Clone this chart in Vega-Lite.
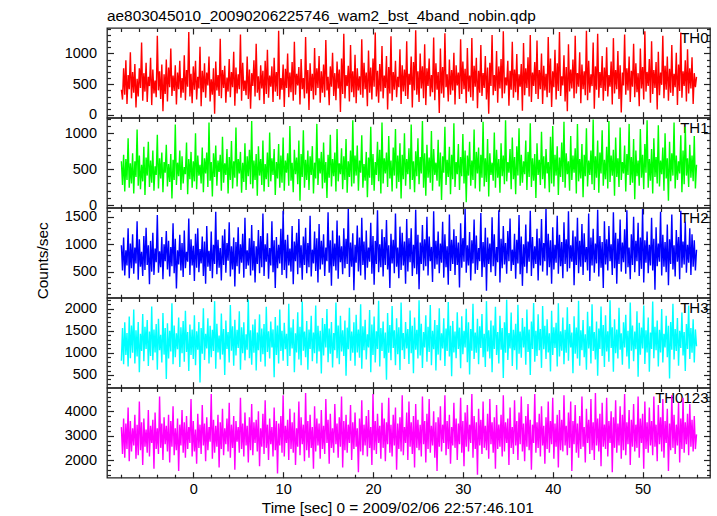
{
"$schema":"https://vega.github.io/schema/vega-lite/v6.json",
"background":"white",
"padding":{"left":34,"top":7,"right":5,"bottom":5},
"bounds":"flush",
"spacing":0,
"config":{
 "font":"Liberation Sans",
 "view":{"stroke":"#222","strokeWidth":1.3},
 "axis":{"domain":false,"grid":false,"tickColor":"#222","tickWidth":1.2,"labelFont":"Liberation Sans","labelFontSize":14.5,"labelColor":"#000","titleFont":"Liberation Sans","titleFontSize":15.4,"titleFontWeight":"normal","titleColor":"#000","labelOverlap":false,"labelFlush":false},
 "title":{"font":"Liberation Sans","fontSize":15.4,"fontWeight":"normal","color":"#000"}
},
"data":{"values":[
{"t":-8,"TH0":410,"TH1":610,"TH2":980,"TH3":820,"TH0123":3350},
{"t":-7.875,"TH0":250,"TH1":280,"TH2":520,"TH3":1560,"TH0123":2250},
{"t":-7.75,"TH0":760,"TH1":700,"TH2":1120,"TH3":740,"TH0123":3700},
{"t":-7.625,"TH0":330,"TH1":190,"TH2":430,"TH3":1690,"TH0123":2100},
{"t":-7.5,"TH0":890,"TH1":640,"TH2":890,"TH3":950,"TH0123":3500},
{"t":-7.375,"TH0":180,"TH1":350,"TH2":610,"TH3":1450,"TH0123":2450},
{"t":-7.25,"TH0":650,"TH1":930,"TH2":1290,"TH3":690,"TH0123":4150},
{"t":-7.125,"TH0":420,"TH1":240,"TH2":380,"TH3":1820,"TH0123":1950},
{"t":-7,"TH0":1020,"TH1":580,"TH2":1010,"TH3":880,"TH0123":3600},
{"t":-6.875,"TH0":270,"TH1":300,"TH2":560,"TH3":1620,"TH0123":2350},
{"t":-6.75,"TH0":700,"TH1":720,"TH2":1180,"TH3":1000,"TH0123":3300},
{"t":-6.625,"TH0":360,"TH1":160,"TH2":460,"TH3":1980,"TH0123":2600},
{"t":-6.5,"TH0":830,"TH1":610,"TH2":940,"TH3":760,"TH0123":3850},
{"t":-6.375,"TH0":120,"TH1":390,"TH2":650,"TH3":1510,"TH0123":2050},
{"t":-6.25,"TH0":590,"TH1":1050,"TH2":1420,"TH3":920,"TH0123":3450},
{"t":-6.125,"TH0":300,"TH1":270,"TH2":350,"TH3":1700,"TH0123":2200},
{"t":-6,"TH0":760,"TH1":690,"TH2":1090,"TH3":560,"TH0123":4400},
{"t":-5.875,"TH0":440,"TH1":220,"TH2":590,"TH3":1430,"TH0123":2400},
{"t":-5.75,"TH0":1180,"TH1":560,"TH2":860,"TH3":1040,"TH0123":3550},
{"t":-5.625,"TH0":230,"TH1":330,"TH2":420,"TH3":1880,"TH0123":1800},
{"t":-5.5,"TH0":680,"TH1":810,"TH2":1150,"TH3":810,"TH0123":3700},
{"t":-5.375,"TH0":380,"TH1":140,"TH2":530,"TH3":1590,"TH0123":2550},
{"t":-5.25,"TH0":850,"TH1":660,"TH2":1300,"TH3":1090,"TH0123":3250},
{"t":-5.125,"TH0":210,"TH1":410,"TH2":620,"TH3":1740,"TH0123":2300},
{"t":-5,"TH0":620,"TH1":880,"TH2":980,"TH3":700,"TH0123":4050},
{"t":-4.875,"TH0":470,"TH1":250,"TH2":270,"TH3":1480,"TH0123":2150},
{"t":-4.75,"TH0":930,"TH1":620,"TH2":1060,"TH3":930,"TH0123":3400},
{"t":-4.625,"TH0":160,"TH1":310,"TH2":500,"TH3":2050,"TH0123":2700},
{"t":-4.5,"TH0":740,"TH1":760,"TH2":1210,"TH3":830,"TH0123":3650},
{"t":-4.375,"TH0":350,"TH1":200,"TH2":440,"TH3":1530,"TH0123":1650},
{"t":-4.25,"TH0":560,"TH1":540,"TH2":920,"TH3":1010,"TH0123":3950},
{"t":-4.125,"TH0":290,"TH1":420,"TH2":670,"TH3":1650,"TH0123":2450},
{"t":-4,"TH0":1290,"TH1":980,"TH2":1530,"TH3":620,"TH0123":3300},
{"t":-3.875,"TH0":400,"TH1":230,"TH2":480,"TH3":1770,"TH0123":2250},
{"t":-3.75,"TH0":710,"TH1":650,"TH2":870,"TH3":1060,"TH0123":4600},
{"t":-3.625,"TH0":260,"TH1":370,"TH2":580,"TH3":1410,"TH0123":2500},
{"t":-3.5,"TH0":820,"TH1":730,"TH2":1130,"TH3":780,"TH0123":3500},
{"t":-3.375,"TH0":60,"TH1":180,"TH2":360,"TH3":1900,"TH0123":2000},
{"t":-3.25,"TH0":660,"TH1":600,"TH2":1000,"TH3":960,"TH0123":3750},
{"t":-3.125,"TH0":340,"TH1":450,"TH2":690,"TH3":1560,"TH0123":2650},
{"t":-3,"TH0":900,"TH1":840,"TH2":1240,"TH3":410,"TH0123":3400},
{"t":-2.875,"TH0":220,"TH1":260,"TH2":540,"TH3":1670,"TH0123":2350},
{"t":-2.75,"TH0":770,"TH1":570,"TH2":1060,"TH3":870,"TH0123":3850},
{"t":-2.625,"TH0":450,"TH1":320,"TH2":410,"TH3":1500,"TH0123":1900},
{"t":-2.5,"TH0":1080,"TH1":710,"TH2":950,"TH3":1030,"TH0123":3600},
{"t":-2.375,"TH0":310,"TH1":90,"TH2":600,"TH3":2120,"TH0123":2550},
{"t":-2.25,"TH0":640,"TH1":630,"TH2":1380,"TH3":740,"TH0123":4200},
{"t":-2.125,"TH0":390,"TH1":350,"TH2":470,"TH3":1620,"TH0123":2200},
{"t":-2,"TH0":810,"TH1":1120,"TH2":1100,"TH3":900,"TH0123":3300},
{"t":-1.875,"TH0":170,"TH1":280,"TH2":190,"TH3":1440,"TH0123":2400},
{"t":-1.75,"TH0":690,"TH1":590,"TH2":890,"TH3":1080,"TH0123":3700},
{"t":-1.625,"TH0":420,"TH1":400,"TH2":630,"TH3":1800,"TH0123":1550},
{"t":-1.5,"TH0":880,"TH1":760,"TH2":1170,"TH3":680,"TH0123":3450},
{"t":-1.375,"TH0":280,"TH1":210,"TH2":520,"TH3":1580,"TH0123":2600},
{"t":-1.25,"TH0":600,"TH1":680,"TH2":1020,"TH3":990,"TH0123":4050},
{"t":-1.125,"TH0":360,"TH1":300,"TH2":400,"TH3":1720,"TH0123":2300},
{"t":-1,"TH0":970,"TH1":530,"TH2":1250,"TH3":800,"TH0123":3550},
{"t":-0.875,"TH0":240,"TH1":430,"TH2":560,"TH3":1950,"TH0123":2100},
{"t":-0.75,"TH0":730,"TH1":870,"TH2":860,"TH3":1020,"TH0123":3800},
{"t":-0.625,"TH0":460,"TH1":150,"TH2":680,"TH3":1470,"TH0123":2450},
{"t":-0.5,"TH0":1350,"TH1":640,"TH2":1470,"TH3":590,"TH0123":3350},
{"t":-0.375,"TH0":300,"TH1":360,"TH2":440,"TH3":1640,"TH0123":2700},
{"t":-0.25,"TH0":670,"TH1":740,"TH2":1090,"TH3":950,"TH0123":4500},
{"t":-0.125,"TH0":190,"TH1":240,"TH2":610,"TH3":1530,"TH0123":2150},
{"t":0,"TH0":790,"TH1":610,"TH2":970,"TH3":860,"TH0123":3600},
{"t":0.125,"TH0":410,"TH1":330,"TH2":330,"TH3":1850,"TH0123":2350},
{"t":0.25,"TH0":880,"TH1":1000,"TH2":1190,"TH3":720,"TH0123":3250},
{"t":0.375,"TH0":250,"TH1":220,"TH2":570,"TH3":1490,"TH0123":1850},
{"t":0.5,"TH0":620,"TH1":690,"TH2":1290,"TH3":1070,"TH0123":3900},
{"t":0.625,"TH0":430,"TH1":410,"TH2":490,"TH3":1700,"TH0123":2500},
{"t":0.75,"TH0":1110,"TH1":560,"TH2":910,"TH3":330,"TH0123":3450},
{"t":0.875,"TH0":140,"TH1":300,"TH2":650,"TH3":1560,"TH0123":2250},
{"t":1,"TH0":720,"TH1":800,"TH2":1140,"TH3":980,"TH0123":4250},
{"t":1.125,"TH0":370,"TH1":180,"TH2":420,"TH3":2010,"TH0123":2600},
{"t":1.25,"TH0":840,"TH1":650,"TH2":1050,"TH3":840,"TH0123":3500},
{"t":1.375,"TH0":280,"TH1":440,"TH2":280,"TH3":1430,"TH0123":1950},
{"t":1.5,"TH0":690,"TH1":730,"TH2":1330,"TH3":1100,"TH0123":3750},
{"t":1.625,"TH0":480,"TH1":250,"TH2":590,"TH3":1780,"TH0123":2400},
{"t":1.75,"TH0":950,"TH1":1150,"TH2":880,"TH3":760,"TH0123":3350},
{"t":1.875,"TH0":220,"TH1":340,"TH2":510,"TH3":1610,"TH0123":2750},
{"t":2,"TH0":580,"TH1":600,"TH2":1230,"TH3":900,"TH0123":4700},
{"t":2.125,"TH0":330,"TH1":120,"TH2":380,"TH3":1520,"TH0123":2050},
{"t":2.25,"TH0":760,"TH1":720,"TH2":990,"TH3":1040,"TH0123":3650},
{"t":2.375,"TH0":20,"TH1":390,"TH2":640,"TH3":2170,"TH0123":2300},
{"t":2.5,"TH0":870,"TH1":830,"TH2":1590,"TH3":640,"TH0123":3400},
{"t":2.625,"TH0":400,"TH1":270,"TH2":450,"TH3":1660,"TH0123":2550},
{"t":2.75,"TH0":650,"TH1":620,"TH2":1080,"TH3":1010,"TH0123":3850},
{"t":2.875,"TH0":310,"TH1":460,"TH2":570,"TH3":1390,"TH0123":1700},
{"t":3,"TH0":1240,"TH1":700,"TH2":930,"TH3":850,"TH0123":3550},
{"t":3.125,"TH0":270,"TH1":200,"TH2":340,"TH3":1890,"TH0123":2450},
{"t":3.25,"TH0":730,"TH1":950,"TH2":1160,"TH3":960,"TH0123":4100},
{"t":3.375,"TH0":440,"TH1":310,"TH2":620,"TH3":1540,"TH0123":2200},
{"t":3.5,"TH0":800,"TH1":580,"TH2":1270,"TH3":500,"TH0123":3300},
{"t":3.625,"TH0":200,"TH1":420,"TH2":480,"TH3":1730,"TH0123":2650},
{"t":3.75,"TH0":610,"TH1":780,"TH2":1020,"TH3":1090,"TH0123":3700},
{"t":3.875,"TH0":380,"TH1":160,"TH2":700,"TH3":1470,"TH0123":2350},
{"t":4,"TH0":910,"TH1":670,"TH2":1400,"TH3":780,"TH0123":4350},
{"t":4.125,"TH0":290,"TH1":350,"TH2":410,"TH3":2080,"TH0123":2100},
{"t":4.25,"TH0":700,"TH1":890,"TH2":960,"TH3":1050,"TH0123":3450},
{"t":4.375,"TH0":450,"TH1":230,"TH2":540,"TH3":1600,"TH0123":2500},
{"t":4.5,"TH0":1030,"TH1":610,"TH2":1120,"TH3":710,"TH0123":3800},
{"t":4.625,"TH0":150,"TH1":380,"TH2":230,"TH3":1750,"TH0123":1600},
{"t":4.75,"TH0":770,"TH1":1080,"TH2":1040,"TH3":940,"TH0123":3600},
{"t":4.875,"TH0":350,"TH1":260,"TH2":600,"TH3":1520,"TH0123":2750},
{"t":5,"TH0":660,"TH1":640,"TH2":1310,"TH3":1110,"TH0123":3350},
{"t":5.125,"TH0":420,"TH1":440,"TH2":460,"TH3":1940,"TH0123":2300},
{"t":5.25,"TH0":1310,"TH1":740,"TH2":1000,"TH3":620,"TH0123":4550},
{"t":5.375,"TH0":230,"TH1":170,"TH2":660,"TH3":1580,"TH0123":2450},
{"t":5.5,"TH0":850,"TH1":590,"TH2":1190,"TH3":990,"TH0123":3500},
{"t":5.625,"TH0":390,"TH1":320,"TH2":390,"TH3":1690,"TH0123":2150},
{"t":5.75,"TH0":560,"TH1":860,"TH2":1480,"TH3":830,"TH0123":3950},
{"t":5.875,"TH0":320,"TH1":210,"TH2":550,"TH3":1420,"TH0123":2600},
{"t":6,"TH0":950,"TH1":680,"TH2":890,"TH3":1070,"TH0123":3400},
{"t":6.125,"TH0":260,"TH1":400,"TH2":610,"TH3":2200,"TH0123":1900},
{"t":6.25,"TH0":740,"TH1":770,"TH2":1110,"TH3":880,"TH0123":3750},
{"t":6.375,"TH0":100,"TH1":290,"TH2":430,"TH3":1510,"TH0123":2400},
{"t":6.5,"TH0":680,"TH1":1170,"TH2":1350,"TH3":730,"TH0123":4300},
{"t":6.625,"TH0":470,"TH1":230,"TH2":520,"TH3":1640,"TH0123":2200},
{"t":6.75,"TH0":890,"TH1":620,"TH2":1060,"TH3":1000,"TH0123":3550},
{"t":6.875,"TH0":300,"TH1":350,"TH2":300,"TH3":1760,"TH0123":2700},
{"t":7,"TH0":1160,"TH1":710,"TH2":960,"TH3":600,"TH0123":3650},
{"t":7.125,"TH0":360,"TH1":130,"TH2":640,"TH3":1460,"TH0123":2350},
{"t":7.25,"TH0":630,"TH1":820,"TH2":1260,"TH3":1060,"TH0123":4000},
{"t":7.375,"TH0":240,"TH1":410,"TH2":470,"TH3":1870,"TH0123":1750},
{"t":7.5,"TH0":810,"TH1":640,"TH2":1150,"TH3":800,"TH0123":3300},
{"t":7.625,"TH0":430,"TH1":280,"TH2":580,"TH3":1550,"TH0123":2550},
{"t":7.75,"TH0":720,"TH1":900,"TH2":1560,"TH3":970,"TH0123":3900},
{"t":7.875,"TH0":180,"TH1":190,"TH2":420,"TH3":1650,"TH0123":2250},
{"t":8,"TH0":880,"TH1":570,"TH2":1000,"TH3":690,"TH0123":4450},
{"t":8.125,"TH0":340,"TH1":360,"TH2":680,"TH3":2040,"TH0123":2500},
{"t":8.25,"TH0":1060,"TH1":730,"TH2":1200,"TH3":1020,"TH0123":3450},
{"t":8.375,"TH0":280,"TH1":250,"TH2":370,"TH3":1490,"TH0123":2000},
{"t":8.5,"TH0":640,"TH1":1010,"TH2":930,"TH3":870,"TH0123":3700},
{"t":8.625,"TH0":460,"TH1":330,"TH2":610,"TH3":1710,"TH0123":2650},
{"t":8.75,"TH0":790,"TH1":650,"TH2":1420,"TH3":1120,"TH0123":3350},
{"t":8.875,"TH0":210,"TH1":420,"TH2":490,"TH3":1530,"TH0123":2150},
{"t":9,"TH0":930,"TH1":780,"TH2":1070,"TH3":450,"TH0123":4150},
{"t":9.125,"TH0":380,"TH1":140,"TH2":200,"TH3":1810,"TH0123":2400},
{"t":9.25,"TH0":700,"TH1":600,"TH2":1130,"TH3":950,"TH0123":3600},
{"t":9.375,"TH0":310,"TH1":370,"TH2":560,"TH3":1620,"TH0123":1450},
{"t":9.5,"TH0":1370,"TH1":850,"TH2":990,"TH3":760,"TH0123":3500},
{"t":9.625,"TH0":250,"TH1":240,"TH2":650,"TH3":1980,"TH0123":2600},
{"t":9.75,"TH0":600,"TH1":690,"TH2":1280,"TH3":1040,"TH0123":3800},
{"t":9.875,"TH0":410,"TH1":310,"TH2":440,"TH3":1500,"TH0123":2300},
{"t":10,"TH0":820,"TH1":940,"TH2":1610,"TH3":820,"TH0123":4650},
{"t":10.125,"TH0":130,"TH1":200,"TH2":530,"TH3":1680,"TH0123":2150},
{"t":10.25,"TH0":750,"TH1":620,"TH2":1080,"TH3":1080,"TH0123":3400},
{"t":10.375,"TH0":440,"TH1":450,"TH2":380,"TH3":1430,"TH0123":2700},
{"t":10.5,"TH0":1000,"TH1":720,"TH2":1170,"TH3":700,"TH0123":3650},
{"t":10.625,"TH0":290,"TH1":270,"TH2":610,"TH3":2110,"TH0123":2000},
{"t":10.75,"TH0":690,"TH1":1100,"TH2":920,"TH3":930,"TH0123":4100},
{"t":10.875,"TH0":370,"TH1":340,"TH2":500,"TH3":1570,"TH0123":2450},
{"t":11,"TH0":860,"TH1":590,"TH2":1330,"TH3":1100,"TH0123":3550},
{"t":11.125,"TH0":230,"TH1":180,"TH2":270,"TH3":1760,"TH0123":2300},
{"t":11.25,"TH0":1190,"TH1":770,"TH2":1050,"TH3":560,"TH0123":3950},
{"t":11.375,"TH0":330,"TH1":430,"TH2":690,"TH3":1440,"TH0123":1800},
{"t":11.5,"TH0":670,"TH1":660,"TH2":1210,"TH3":1010,"TH0123":3300},
{"t":11.625,"TH0":480,"TH1":290,"TH2":450,"TH3":1920,"TH0123":2550},
{"t":11.75,"TH0":780,"TH1":900,"TH2":1460,"TH3":850,"TH0123":4400},
{"t":11.875,"TH0":170,"TH1":60,"TH2":570,"TH3":1590,"TH0123":2200},
{"t":12,"TH0":910,"TH1":710,"TH2":980,"TH3":720,"TH0123":3750},
{"t":12.125,"TH0":420,"TH1":390,"TH2":350,"TH3":2160,"TH0123":2650},
{"t":12.25,"TH0":600,"TH1":1040,"TH2":1140,"TH3":1050,"TH0123":3450},
{"t":12.375,"TH0":270,"TH1":240,"TH2":620,"TH3":1480,"TH0123":1950},
{"t":12.5,"TH0":1270,"TH1":630,"TH2":1300,"TH3":900,"TH0123":4750},
{"t":12.625,"TH0":350,"TH1":350,"TH2":470,"TH3":1720,"TH0123":2400},
{"t":12.75,"TH0":730,"TH1":760,"TH2":1020,"TH3":620,"TH0123":3600},
{"t":12.875,"TH0":80,"TH1":210,"TH2":580,"TH3":1530,"TH0123":2100},
{"t":13,"TH0":840,"TH1":680,"TH2":1520,"TH3":1090,"TH0123":3850},
{"t":13.125,"TH0":390,"TH1":420,"TH2":410,"TH3":1840,"TH0123":2500},
{"t":13.25,"TH0":670,"TH1":820,"TH2":900,"TH3":810,"TH0123":3350},
{"t":13.375,"TH0":250,"TH1":160,"TH2":650,"TH3":1460,"TH0123":1650},
{"t":13.5,"TH0":1090,"TH1":590,"TH2":1230,"TH3":990,"TH0123":4200},
{"t":13.625,"TH0":320,"TH1":370,"TH2":510,"TH3":2070,"TH0123":2350},
{"t":13.75,"TH0":760,"TH1":1130,"TH2":1110,"TH3":760,"TH0123":3700},
{"t":13.875,"TH0":440,"TH1":280,"TH2":300,"TH3":1610,"TH0123":2600},
{"t":14,"TH0":960,"TH1":650,"TH2":1370,"TH3":1030,"TH0123":3500},
{"t":14.125,"TH0":200,"TH1":440,"TH2":540,"TH3":1500,"TH0123":2050},
{"t":14.25,"TH0":710,"TH1":740,"TH2":1060,"TH3":530,"TH0123":4050},
{"t":14.375,"TH0":360,"TH1":230,"TH2":630,"TH3":1790,"TH0123":2450},
{"t":14.5,"TH0":820,"TH1":870,"TH2":1180,"TH3":940,"TH0123":3400},
{"t":14.625,"TH0":290,"TH1":310,"TH2":420,"TH3":1650,"TH0123":2250},
{"t":14.75,"TH0":1220,"TH1":600,"TH2":940,"TH3":1120,"TH0123":4500},
{"t":14.875,"TH0":400,"TH1":100,"TH2":690,"TH3":1990,"TH0123":2700},
{"t":15,"TH0":620,"TH1":700,"TH2":1580,"TH3":790,"TH0123":3650},
{"t":15.125,"TH0":160,"TH1":380,"TH2":480,"TH3":1550,"TH0123":1850},
{"t":15.25,"TH0":790,"TH1":980,"TH2":1070,"TH3":980,"TH0123":3900},
{"t":15.375,"TH0":460,"TH1":260,"TH2":240,"TH3":1700,"TH0123":2500},
{"t":15.5,"TH0":1010,"TH1":640,"TH2":1250,"TH3":670,"TH0123":3300},
{"t":15.625,"TH0":310,"TH1":400,"TH2":600,"TH3":1450,"TH0123":2300},
{"t":15.75,"TH0":680,"TH1":730,"TH2":1010,"TH3":1060,"TH0123":4300},
{"t":15.875,"TH0":240,"TH1":190,"TH2":520,"TH3":2140,"TH0123":2650},
{"t":16,"TH0":870,"TH1":1060,"TH2":1430,"TH3":880,"TH0123":3500},
{"t":16.125,"TH0":430,"TH1":330,"TH2":370,"TH3":1620,"TH0123":2100},
{"t":16.25,"TH0":740,"TH1":580,"TH2":1160,"TH3":740,"TH0123":3750},
{"t":16.375,"TH0":50,"TH1":430,"TH2":670,"TH3":1840,"TH0123":2550},
{"t":16.5,"TH0":920,"TH1":790,"TH2":960,"TH3":1030,"TH0123":4600},
{"t":16.625,"TH0":340,"TH1":220,"TH2":450,"TH3":1510,"TH0123":1700},
{"t":16.75,"TH0":1320,"TH1":680,"TH2":1290,"TH3":930,"TH0123":3600},
{"t":16.875,"TH0":270,"TH1":350,"TH2":560,"TH3":1730,"TH0123":2400},
{"t":17,"TH0":650,"TH1":920,"TH2":1100,"TH3":480,"TH0123":3850},
{"t":17.125,"TH0":470,"TH1":170,"TH2":640,"TH3":1570,"TH0123":2300},
{"t":17.25,"TH0":800,"TH1":610,"TH2":1640,"TH3":1080,"TH0123":3450},
{"t":17.375,"TH0":220,"TH1":390,"TH2":400,"TH3":2020,"TH0123":2700},
{"t":17.5,"TH0":1140,"TH1":760,"TH2":1030,"TH3":820,"TH0123":4250},
{"t":17.625,"TH0":370,"TH1":260,"TH2":590,"TH3":1480,"TH0123":2000},
{"t":17.75,"TH0":710,"TH1":1180,"TH2":1200,"TH3":1000,"TH0123":3550},
{"t":17.875,"TH0":290,"TH1":300,"TH2":160,"TH3":1690,"TH0123":2450},
{"t":18,"TH0":980,"TH1":690,"TH2":990,"TH3":710,"TH0123":3950},
{"t":18.125,"TH0":190,"TH1":410,"TH2":660,"TH3":1860,"TH0123":2550},
{"t":18.25,"TH0":760,"TH1":830,"TH2":1340,"TH3":1010,"TH0123":3300},
{"t":18.375,"TH0":400,"TH1":200,"TH2":500,"TH3":1530,"TH0123":1500},
{"t":18.5,"TH0":630,"TH1":620,"TH2":1120,"TH3":890,"TH0123":3700},
{"t":18.625,"TH0":330,"TH1":450,"TH2":430,"TH3":2100,"TH0123":2350},
{"t":18.75,"TH0":1230,"TH1":970,"TH2":1480,"TH3":640,"TH0123":4450},
{"t":18.875,"TH0":280,"TH1":240,"TH2":620,"TH3":1600,"TH0123":2200},
{"t":19,"TH0":850,"TH1":570,"TH2":1050,"TH3":1060,"TH0123":3450},
{"t":19.125,"TH0":420,"TH1":340,"TH2":350,"TH3":1750,"TH0123":2600},
{"t":19.25,"TH0":690,"TH1":740,"TH2":1250,"TH3":850,"TH0123":3800},
{"t":19.375,"TH0":140,"TH1":110,"TH2":570,"TH3":1420,"TH0123":2150},
{"t":19.5,"TH0":1050,"TH1":660,"TH2":940,"TH3":1120,"TH0123":4050},
{"t":19.625,"TH0":360,"TH1":380,"TH2":680,"TH3":1970,"TH0123":2500},
{"t":19.75,"TH0":770,"TH1":1090,"TH2":1390,"TH3":560,"TH0123":3350},
{"t":19.875,"TH0":250,"TH1":280,"TH2":460,"TH3":1640,"TH0123":1800},
{"t":20,"TH0":920,"TH1":710,"TH2":1150,"TH3":950,"TH0123":4700},
{"t":20.125,"TH0":460,"TH1":200,"TH2":260,"TH3":1820,"TH0123":2400},
{"t":20.25,"TH0":1340,"TH1":600,"TH2":1060,"TH3":780,"TH0123":3600},
{"t":20.375,"TH0":300,"TH1":420,"TH2":640,"TH3":1490,"TH0123":2250},
{"t":20.5,"TH0":720,"TH1":880,"TH2":1620,"TH3":1090,"TH0123":3900},
{"t":20.625,"TH0":200,"TH1":330,"TH2":490,"TH3":2180,"TH0123":2700},
{"t":20.75,"TH0":830,"TH1":770,"TH2":1000,"TH3":690,"TH0123":3400},
{"t":20.875,"TH0":380,"TH1":160,"TH2":580,"TH3":1560,"TH0123":2050},
{"t":21,"TH0":1120,"TH1":1150,"TH2":1270,"TH3":1040,"TH0123":4350},
{"t":21.125,"TH0":270,"TH1":300,"TH2":410,"TH3":1710,"TH0123":2500},
{"t":21.25,"TH0":640,"TH1":650,"TH2":1130,"TH3":880,"TH0123":3700},
{"t":21.375,"TH0":440,"TH1":440,"TH2":620,"TH3":1460,"TH0123":1950},
{"t":21.5,"TH0":960,"TH1":730,"TH2":1440,"TH3":390,"TH0123":3550},
{"t":21.625,"TH0":90,"TH1":250,"TH2":540,"TH3":1900,"TH0123":2650},
{"t":21.75,"TH0":780,"TH1":960,"TH2":980,"TH3":1000,"TH0123":4550},
{"t":21.875,"TH0":350,"TH1":370,"TH2":200,"TH3":1630,"TH0123":2300},
{"t":22,"TH0":1280,"TH1":620,"TH2":1190,"TH3":830,"TH0123":3450},
{"t":22.125,"TH0":230,"TH1":190,"TH2":650,"TH3":2060,"TH0123":2150},
{"t":22.25,"TH0":700,"TH1":800,"TH2":1080,"TH3":1110,"TH0123":3850},
{"t":22.375,"TH0":410,"TH1":410,"TH2":470,"TH3":1510,"TH0123":2600},
{"t":22.5,"TH0":880,"TH1":1060,"TH2":1560,"TH3":720,"TH0123":4150},
{"t":22.625,"TH0":290,"TH1":230,"TH2":590,"TH3":1780,"TH0123":1600},
{"t":22.75,"TH0":620,"TH1":690,"TH2":940,"TH3":970,"TH0123":3500},
{"t":22.875,"TH0":450,"TH1":320,"TH2":380,"TH3":1580,"TH0123":2450},
{"t":23,"TH0":1070,"TH1":860,"TH2":1320,"TH3":610,"TH0123":3750},
{"t":23.125,"TH0":180,"TH1":90,"TH2":530,"TH3":2140,"TH0123":2350},
{"t":23.25,"TH0":810,"TH1":700,"TH2":1210,"TH3":1060,"TH0123":4650},
{"t":23.375,"TH0":380,"TH1":360,"TH2":610,"TH3":1450,"TH0123":2200},
{"t":23.5,"TH0":740,"TH1":1000,"TH2":1050,"TH3":860,"TH0123":3350},
{"t":23.625,"TH0":310,"TH1":270,"TH2":280,"TH3":1700,"TH0123":2700},
{"t":23.75,"TH0":1200,"TH1":640,"TH2":1460,"TH3":1100,"TH0123":3950},
{"t":23.875,"TH0":260,"TH1":430,"TH2":500,"TH3":1540,"TH0123":2000},
{"t":24,"TH0":670,"TH1":790,"TH2":1110,"TH3":750,"TH0123":4400},
{"t":24.125,"TH0":490,"TH1":220,"TH2":670,"TH3":1960,"TH0123":2550},
{"t":24.25,"TH0":950,"TH1":1120,"TH2":1290,"TH3":990,"TH0123":3550},
{"t":24.375,"TH0":120,"TH1":350,"TH2":420,"TH3":1610,"TH0123":2250},
{"t":24.5,"TH0":860,"TH1":610,"TH2":990,"TH3":540,"TH0123":3800},
{"t":24.625,"TH0":400,"TH1":180,"TH2":560,"TH3":1800,"TH0123":1700},
{"t":24.75,"TH0":1380,"TH1":750,"TH2":1630,"TH3":1070,"TH0123":4300},
{"t":24.875,"TH0":330,"TH1":400,"TH2":450,"TH3":1520,"TH0123":2500},
{"t":25,"TH0":710,"TH1":930,"TH2":1170,"TH3":870,"TH0123":3650},
{"t":25.125,"TH0":210,"TH1":290,"TH2":180,"TH3":2190,"TH0123":2400},
{"t":25.25,"TH0":1000,"TH1":670,"TH2":1030,"TH3":940,"TH0123":3450},
{"t":25.375,"TH0":430,"TH1":440,"TH2":640,"TH3":1660,"TH0123":2150},
{"t":25.5,"TH0":790,"TH1":1170,"TH2":1350,"TH3":660,"TH0123":4600},
{"t":25.625,"TH0":270,"TH1":240,"TH2":520,"TH3":1470,"TH0123":2650},
{"t":25.75,"TH0":1150,"TH1":720,"TH2":1090,"TH3":1120,"TH0123":3600},
{"t":25.875,"TH0":160,"TH1":130,"TH2":600,"TH3":1850,"TH0123":1900},
{"t":26,"TH0":760,"TH1":840,"TH2":1500,"TH3":800,"TH0123":3900},
{"t":26.125,"TH0":470,"TH1":380,"TH2":430,"TH3":1590,"TH0123":2450},
{"t":26.25,"TH0":920,"TH1":660,"TH2":1140,"TH3":1020,"TH0123":4500},
{"t":26.375,"TH0":300,"TH1":310,"TH2":690,"TH3":2080,"TH0123":2300},
{"t":26.5,"TH0":650,"TH1":1030,"TH2":950,"TH3":720,"TH0123":3400},
{"t":26.625,"TH0":370,"TH1":200,"TH2":310,"TH3":1500,"TH0123":2600},
{"t":26.75,"TH0":1260,"TH1":780,"TH2":1600,"TH3":1080,"TH0123":4000},
{"t":26.875,"TH0":240,"TH1":420,"TH2":550,"TH3":1740,"TH0123":2100},
{"t":27,"TH0":840,"TH1":590,"TH2":1060,"TH3":600,"TH0123":3550},
{"t":27.125,"TH0":410,"TH1":340,"TH2":630,"TH3":1630,"TH0123":1550},
{"t":27.25,"TH0":700,"TH1":910,"TH2":1230,"TH3":960,"TH0123":3750},
{"t":27.375,"TH0":30,"TH1":260,"TH2":470,"TH3":2010,"TH0123":2550},
{"t":27.5,"TH0":1080,"TH1":730,"TH2":1010,"TH3":830,"TH0123":4200},
{"t":27.625,"TH0":350,"TH1":70,"TH2":660,"TH3":1440,"TH0123":2350},
{"t":27.75,"TH0":780,"TH1":680,"TH2":1410,"TH3":1100,"TH0123":3450},
{"t":27.875,"TH0":280,"TH1":450,"TH2":390,"TH3":1780,"TH0123":2700},
{"t":28,"TH0":1330,"TH1":1090,"TH2":1180,"TH3":700,"TH0123":4650},
{"t":28.125,"TH0":450,"TH1":280,"TH2":580,"TH3":1550,"TH0123":2200},
{"t":28.25,"TH0":660,"TH1":630,"TH2":960,"TH3":1040,"TH0123":3600},
{"t":28.375,"TH0":220,"TH1":390,"TH2":260,"TH3":2150,"TH0123":2450},
{"t":28.5,"TH0":900,"TH1":810,"TH2":1540,"TH3":920,"TH0123":3850},
{"t":28.625,"TH0":330,"TH1":150,"TH2":510,"TH3":1610,"TH0123":1850},
{"t":28.75,"TH0":730,"TH1":700,"TH2":1080,"TH3":470,"TH0123":3350},
{"t":28.875,"TH0":400,"TH1":360,"TH2":640,"TH3":1720,"TH0123":2600},
{"t":29,"TH0":1010,"TH1":1140,"TH2":1270,"TH3":1010,"TH0123":4350},
{"t":29.125,"TH0":170,"TH1":250,"TH2":440,"TH3":1480,"TH0123":2500},
{"t":29.25,"TH0":810,"TH1":600,"TH2":1150,"TH3":880,"TH0123":3700},
{"t":29.375,"TH0":480,"TH1":430,"TH2":620,"TH3":1920,"TH0123":2000},
{"t":29.5,"TH0":690,"TH1":850,"TH2":1030,"TH3":1090,"TH0123":3500},
{"t":29.625,"TH0":260,"TH1":210,"TH2":210,"TH3":1570,"TH0123":2650},
{"t":29.75,"TH0":1230,"TH1":670,"TH2":1380,"TH3":650,"TH0123":4550},
{"t":29.875,"TH0":340,"TH1":400,"TH2":570,"TH3":1830,"TH0123":2300},
{"t":30,"TH0":870,"TH1":990,"TH2":1110,"TH3":970,"TH0123":3600},
{"t":30.125,"TH0":420,"TH1":300,"TH2":680,"TH3":1500,"TH0123":1750},
{"t":30.25,"TH0":750,"TH1":760,"TH2":1640,"TH3":1120,"TH0123":3950},
{"t":30.375,"TH0":190,"TH1":40,"TH2":480,"TH3":2000,"TH0123":2550},
{"t":30.5,"TH0":1090,"TH1":690,"TH2":980,"TH3":790,"TH0123":4250},
{"t":30.625,"TH0":380,"TH1":410,"TH2":610,"TH3":1690,"TH0123":2350},
{"t":30.75,"TH0":640,"TH1":880,"TH2":1220,"TH3":510,"TH0123":3450},
{"t":30.875,"TH0":290,"TH1":270,"TH2":340,"TH3":1540,"TH0123":2700},
{"t":31,"TH0":1250,"TH1":620,"TH2":1070,"TH3":1050,"TH0123":4700},
{"t":31.125,"TH0":230,"TH1":350,"TH2":650,"TH3":2110,"TH0123":2100},
{"t":31.25,"TH0":800,"TH1":1050,"TH2":1450,"TH3":860,"TH0123":3800},
{"t":31.375,"TH0":460,"TH1":230,"TH2":460,"TH3":1460,"TH0123":2450},
{"t":31.5,"TH0":930,"TH1":740,"TH2":1160,"TH3":1000,"TH0123":3550},
{"t":31.625,"TH0":110,"TH1":440,"TH2":530,"TH3":1770,"TH0123":1400},
{"t":31.75,"TH0":720,"TH1":800,"TH2":930,"TH3":740,"TH0123":4100},
{"t":31.875,"TH0":360,"TH1":190,"TH2":690,"TH3":1600,"TH0123":2600},
{"t":32,"TH0":1140,"TH1":700,"TH2":1570,"TH3":1110,"TH0123":3650},
{"t":32.125,"TH0":310,"TH1":380,"TH2":400,"TH3":1880,"TH0123":2250},
{"t":32.25,"TH0":680,"TH1":1160,"TH2":1040,"TH3":900,"TH0123":4400},
{"t":32.375,"TH0":440,"TH1":260,"TH2":580,"TH3":1430,"TH0123":2500},
{"t":32.5,"TH0":960,"TH1":650,"TH2":1300,"TH3":680,"TH0123":3400},
{"t":32.625,"TH0":250,"TH1":320,"TH2":150,"TH3":2170,"TH0123":2400},
{"t":32.75,"TH0":770,"TH1":920,"TH2":1120,"TH3":1030,"TH0123":3900},
{"t":32.875,"TH0":20,"TH1":120,"TH2":640,"TH3":1510,"TH0123":2050},
{"t":33,"TH0":850,"TH1":720,"TH2":1010,"TH3":870,"TH0123":4500},
{"t":33.125,"TH0":470,"TH1":420,"TH2":490,"TH3":1730,"TH0123":2650},
{"t":33.25,"TH0":1300,"TH1":590,"TH2":1490,"TH3":560,"TH0123":3550},
{"t":33.375,"TH0":320,"TH1":340,"TH2":600,"TH3":1620,"TH0123":2300},
{"t":33.5,"TH0":650,"TH1":1010,"TH2":1180,"TH3":1090,"TH0123":3750},
{"t":33.625,"TH0":390,"TH1":240,"TH2":420,"TH3":2040,"TH0123":1650},
{"t":33.75,"TH0":1040,"TH1":770,"TH2":950,"TH3":950,"TH0123":4250},
{"t":33.875,"TH0":200,"TH1":380,"TH2":670,"TH3":1470,"TH0123":2450},
{"t":34,"TH0":790,"TH1":640,"TH2":1620,"TH3":760,"TH0123":3450},
{"t":34.125,"TH0":430,"TH1":170,"TH2":300,"TH3":1840,"TH0123":2550},
{"t":34.25,"TH0":910,"TH1":860,"TH2":1100,"TH3":1070,"TH0123":3850},
{"t":34.375,"TH0":270,"TH1":400,"TH2":560,"TH3":1560,"TH0123":2150},
{"t":34.5,"TH0":1360,"TH1":690,"TH2":1330,"TH3":430,"TH0123":4650},
{"t":34.625,"TH0":350,"TH1":290,"TH2":630,"TH3":1690,"TH0123":2350},
{"t":34.75,"TH0":610,"TH1":1180,"TH2":1020,"TH3":1000,"TH0123":3550},
{"t":34.875,"TH0":480,"TH1":330,"TH2":460,"TH3":2200,"TH0123":2700},
{"t":35,"TH0":880,"TH1":600,"TH2":1240,"TH3":840,"TH0123":3700},
{"t":35.125,"TH0":150,"TH1":450,"TH2":690,"TH3":1450,"TH0123":1800},
{"t":35.25,"TH0":720,"TH1":780,"TH2":1470,"TH3":1100,"TH0123":4150},
{"t":35.375,"TH0":410,"TH1":220,"TH2":510,"TH3":1910,"TH0123":2500},
{"t":35.5,"TH0":1190,"TH1":940,"TH2":900,"TH3":700,"TH0123":3350},
{"t":35.625,"TH0":280,"TH1":360,"TH2":620,"TH3":1520,"TH0123":2250},
{"t":35.75,"TH0":740,"TH1":670,"TH2":1190,"TH3":1060,"TH0123":4450},
{"t":35.875,"TH0":370,"TH1":150,"TH2":370,"TH3":1660,"TH0123":2600},
{"t":36,"TH0":990,"TH1":820,"TH2":1080,"TH3":620,"TH0123":3600},
{"t":36.125,"TH0":240,"TH1":410,"TH2":650,"TH3":2090,"TH0123":2000},
{"t":36.25,"TH0":660,"TH1":1070,"TH2":1530,"TH3":980,"TH0123":3950},
{"t":36.375,"TH0":460,"TH1":270,"TH2":450,"TH3":1480,"TH0123":2650},
{"t":36.5,"TH0":830,"TH1":700,"TH2":1140,"TH3":890,"TH0123":4600},
{"t":36.625,"TH0":70,"TH1":310,"TH2":240,"TH3":1790,"TH0123":2350},
{"t":36.75,"TH0":1170,"TH1":610,"TH2":1000,"TH3":1120,"TH0123":3500},
{"t":36.875,"TH0":320,"TH1":430,"TH2":590,"TH3":1590,"TH0123":1950},
{"t":37,"TH0":760,"TH1":900,"TH2":1360,"TH3":730,"TH0123":3800},
{"t":37.125,"TH0":440,"TH1":210,"TH2":470,"TH3":1980,"TH0123":2550},
{"t":37.25,"TH0":940,"TH1":740,"TH2":1050,"TH3":1020,"TH0123":4300},
{"t":37.375,"TH0":300,"TH1":390,"TH2":680,"TH3":1530,"TH0123":2400},
{"t":37.5,"TH0":1300,"TH1":1140,"TH2":1610,"TH3":500,"TH0123":3650},
{"t":37.625,"TH0":210,"TH1":250,"TH2":420,"TH3":1710,"TH0123":1600},
{"t":37.75,"TH0":690,"TH1":650,"TH2":1130,"TH3":1090,"TH0123":3450},
{"t":37.875,"TH0":470,"TH1":340,"TH2":560,"TH3":2130,"TH0123":2700},
{"t":38,"TH0":860,"TH1":710,"TH2":960,"TH3":800,"TH0123":4700},
{"t":38.125,"TH0":340,"TH1":100,"TH2":640,"TH3":1500,"TH0123":2300},
{"t":38.25,"TH0":1210,"TH1":860,"TH2":1280,"TH3":930,"TH0123":3550},
{"t":38.375,"TH0":260,"TH1":420,"TH2":340,"TH3":1870,"TH0123":2500},
{"t":38.5,"TH0":730,"TH1":630,"TH2":1110,"TH3":1060,"TH0123":3900},
{"t":38.625,"TH0":420,"TH1":280,"TH2":610,"TH3":1540,"TH0123":2150},
{"t":38.75,"TH0":1000,"TH1":1020,"TH2":1460,"TH3":660,"TH0123":4200},
{"t":38.875,"TH0":180,"TH1":360,"TH2":500,"TH3":2060,"TH0123":2600},
{"t":39,"TH0":800,"TH1":680,"TH2":1020,"TH3":1080,"TH0123":3400},
{"t":39.125,"TH0":400,"TH1":230,"TH2":690,"TH3":1610,"TH0123":1850},
{"t":39.25,"TH0":670,"TH1":780,"TH2":1640,"TH3":860,"TH0123":3750},
{"t":39.375,"TH0":290,"TH1":440,"TH2":430,"TH3":1760,"TH0123":2450},
{"t":39.5,"TH0":1270,"TH1":600,"TH2":1190,"TH3":1010,"TH0123":4400},
{"t":39.625,"TH0":360,"TH1":180,"TH2":580,"TH3":1440,"TH0123":2300},
{"t":39.75,"TH0":920,"TH1":950,"TH2":1070,"TH3":580,"TH0123":3600},
{"t":39.875,"TH0":130,"TH1":300,"TH2":280,"TH3":1950,"TH0123":2650},
{"t":40,"TH0":710,"TH1":1100,"TH2":1310,"TH3":950,"TH0123":4550},
{"t":40.125,"TH0":450,"TH1":260,"TH2":540,"TH3":1580,"TH0123":2050},
{"t":40.25,"TH0":1060,"TH1":700,"TH2":990,"TH3":1110,"TH0123":3500},
{"t":40.375,"TH0":250,"TH1":410,"TH2":660,"TH3":1680,"TH0123":2550},
{"t":40.5,"TH0":840,"TH1":820,"TH2":1520,"TH3":690,"TH0123":3850},
{"t":40.625,"TH0":390,"TH1":140,"TH2":460,"TH3":2120,"TH0123":1700},
{"t":40.75,"TH0":1350,"TH1":660,"TH2":1170,"TH3":920,"TH0123":4050},
{"t":40.875,"TH0":310,"TH1":390,"TH2":600,"TH3":1490,"TH0123":2400},
{"t":41,"TH0":630,"TH1":870,"TH2":1040,"TH3":1050,"TH0123":3650},
{"t":41.125,"TH0":480,"TH1":320,"TH2":380,"TH3":1800,"TH0123":2350},
{"t":41.25,"TH0":970,"TH1":1160,"TH2":1400,"TH3":740,"TH0123":4650},
{"t":41.375,"TH0":220,"TH1":240,"TH2":640,"TH3":1520,"TH0123":2600},
{"t":41.5,"TH0":780,"TH1":720,"TH2":1090,"TH3":1000,"TH0123":3400},
{"t":41.625,"TH0":60,"TH1":430,"TH2":500,"TH3":2030,"TH0123":2200},
{"t":41.75,"TH0":1150,"TH1":610,"TH2":1600,"TH3":820,"TH0123":3950},
{"t":41.875,"TH0":380,"TH1":200,"TH2":560,"TH3":1650,"TH0123":2500},
{"t":42,"TH0":740,"TH1":960,"TH2":980,"TH3":1120,"TH0123":4400},
{"t":42.125,"TH0":430,"TH1":350,"TH2":680,"TH3":1460,"TH0123":1550},
{"t":42.25,"TH0":900,"TH1":690,"TH2":1250,"TH3":540,"TH0123":3600},
{"t":42.375,"TH0":270,"TH1":450,"TH2":250,"TH3":1830,"TH0123":2650},
{"t":42.5,"TH0":1290,"TH1":790,"TH2":1140,"TH3":980,"TH0123":4250},
{"t":42.625,"TH0":350,"TH1":160,"TH2":620,"TH3":1570,"TH0123":2300},
{"t":42.75,"TH0":680,"TH1":1130,"TH2":1480,"TH3":870,"TH0123":3500},
{"t":42.875,"TH0":460,"TH1":330,"TH2":470,"TH3":2180,"TH0123":2100},
{"t":43,"TH0":1020,"TH1":640,"TH2":1060,"TH3":710,"TH0123":3800},
{"t":43.125,"TH0":190,"TH1":370,"TH2":590,"TH3":1510,"TH0123":2450},
{"t":43.25,"TH0":820,"TH1":850,"TH2":1370,"TH3":1060,"TH0123":4600},
{"t":43.375,"TH0":420,"TH1":110,"TH2":440,"TH3":1740,"TH0123":2550},
{"t":43.5,"TH0":710,"TH1":700,"TH2":1200,"TH3":900,"TH0123":3350},
{"t":43.625,"TH0":320,"TH1":400,"TH2":670,"TH3":1420,"TH0123":1900},
{"t":43.75,"TH0":1370,"TH1":1070,"TH2":950,"TH3":620,"TH0123":4100},
{"t":43.875,"TH0":240,"TH1":260,"TH2":520,"TH3":1930,"TH0123":2700},
{"t":44,"TH0":880,"TH1":620,"TH2":1560,"TH3":1100,"TH0123":3650},
{"t":44.125,"TH0":360,"TH1":420,"TH2":330,"TH3":1600,"TH0123":2250},
{"t":44.25,"TH0":660,"TH1":760,"TH2":1120,"TH3":760,"TH0123":4500},
{"t":44.375,"TH0":470,"TH1":290,"TH2":610,"TH3":2100,"TH0123":2400},
{"t":44.5,"TH0":1180,"TH1":1190,"TH2":1280,"TH3":1040,"TH0123":3550},
{"t":44.625,"TH0":100,"TH1":210,"TH2":480,"TH3":1470,"TH0123":2000},
{"t":44.75,"TH0":790,"TH1":680,"TH2":1010,"TH3":850,"TH0123":4750},
{"t":44.875,"TH0":410,"TH1":380,"TH2":650,"TH3":1710,"TH0123":2600},
{"t":45,"TH0":1320,"TH1":900,"TH2":1630,"TH3":480,"TH0123":3700},
{"t":45.125,"TH0":280,"TH1":170,"TH2":410,"TH3":1550,"TH0123":2350},
{"t":45.25,"TH0":700,"TH1":730,"TH2":1150,"TH3":1090,"TH0123":3900},
{"t":45.375,"TH0":440,"TH1":440,"TH2":570,"TH3":2050,"TH0123":1750},
{"t":45.5,"TH0":960,"TH1":1040,"TH2":1040,"TH3":930,"TH0123":4350},
{"t":45.625,"TH0":230,"TH1":270,"TH2":200,"TH3":1630,"TH0123":2550},
{"t":45.75,"TH0":770,"TH1":630,"TH2":1420,"TH3":680,"TH0123":3450},
{"t":45.875,"TH0":390,"TH1":360,"TH2":630,"TH3":1850,"TH0123":2450},
{"t":46,"TH0":1100,"TH1":810,"TH2":1090,"TH3":1030,"TH0123":4550},
{"t":46.125,"TH0":300,"TH1":230,"TH2":520,"TH3":1490,"TH0123":2150},
{"t":46.25,"TH0":650,"TH1":1170,"TH2":1330,"TH3":800,"TH0123":3600},
{"t":46.375,"TH0":460,"TH1":320,"TH2":690,"TH3":2190,"TH0123":2700},
{"t":46.5,"TH0":870,"TH1":690,"TH2":1000,"TH3":1110,"TH0123":4000},
{"t":46.625,"TH0":170,"TH1":410,"TH2":440,"TH3":1580,"TH0123":1500},
{"t":46.75,"TH0":1250,"TH1":770,"TH2":1580,"TH3":570,"TH0123":3750},
{"t":46.875,"TH0":350,"TH1":130,"TH2":560,"TH3":1760,"TH0123":2500},
{"t":47,"TH0":730,"TH1":940,"TH2":1210,"TH3":990,"TH0123":4450},
{"t":47.125,"TH0":420,"TH1":390,"TH2":280,"TH3":1530,"TH0123":2300},
{"t":47.25,"TH0":1040,"TH1":650,"TH2":1100,"TH3":870,"TH0123":3500},
{"t":47.375,"TH0":260,"TH1":250,"TH2":640,"TH3":2020,"TH0123":2600},
{"t":47.5,"TH0":810,"TH1":1080,"TH2":1450,"TH3":1070,"TH0123":4200},
{"t":47.625,"TH0":40,"TH1":350,"TH2":500,"TH3":1440,"TH0123":2050},
{"t":47.75,"TH0":690,"TH1":600,"TH2":1030,"TH3":730,"TH0123":3850},
{"t":47.875,"TH0":480,"TH1":440,"TH2":670,"TH3":1690,"TH0123":2400},
{"t":48,"TH0":1310,"TH1":830,"TH2":1270,"TH3":1120,"TH0123":4700},
{"t":48.125,"TH0":330,"TH1":190,"TH2":460,"TH3":1860,"TH0123":2200},
{"t":48.25,"TH0":760,"TH1":710,"TH2":1620,"TH3":920,"TH0123":3550},
{"t":48.375,"TH0":400,"TH1":420,"TH2":580,"TH3":1500,"TH0123":2650},
{"t":48.5,"TH0":950,"TH1":1130,"TH2":940,"TH3":640,"TH0123":4050},
{"t":48.625,"TH0":210,"TH1":280,"TH2":360,"TH3":2140,"TH0123":1800},
{"t":48.75,"TH0":720,"TH1":670,"TH2":1180,"TH3":1050,"TH0123":3650},
{"t":48.875,"TH0":460,"TH1":310,"TH2":620,"TH3":1620,"TH0123":2550},
{"t":49,"TH0":1160,"TH1":920,"TH2":1500,"TH3":810,"TH0123":4300},
{"t":49.125,"TH0":290,"TH1":80,"TH2":490,"TH3":1480,"TH0123":2350},
{"t":49.25,"TH0":840,"TH1":760,"TH2":1060,"TH3":1080,"TH0123":3450},
{"t":49.375,"TH0":370,"TH1":400,"TH2":690,"TH3":1940,"TH0123":2500},
{"t":49.5,"TH0":680,"TH1":620,"TH2":1390,"TH3":460,"TH0123":4600},
{"t":49.625,"TH0":140,"TH1":270,"TH2":420,"TH3":1680,"TH0123":2100},
{"t":49.75,"TH0":1080,"TH1":1060,"TH2":1120,"TH3":960,"TH0123":3700},
{"t":49.875,"TH0":430,"TH1":380,"TH2":550,"TH3":1570,"TH0123":2700},
{"t":50,"TH0":780,"TH1":700,"TH2":1640,"TH3":1100,"TH0123":3900},
{"t":50.125,"TH0":250,"TH1":220,"TH2":300,"TH3":2070,"TH0123":1650},
{"t":50.25,"TH0":1360,"TH1":850,"TH2":1070,"TH3":750,"TH0123":4400},
{"t":50.375,"TH0":380,"TH1":450,"TH2":660,"TH3":1510,"TH0123":2450},
{"t":50.5,"TH0":700,"TH1":1180,"TH2":1230,"TH3":1010,"TH0123":3550},
{"t":50.625,"TH0":470,"TH1":240,"TH2":470,"TH3":1800,"TH0123":2300},
{"t":50.75,"TH0":910,"TH1":640,"TH2":990,"TH3":570,"TH0123":4150},
{"t":50.875,"TH0":200,"TH1":340,"TH2":610,"TH3":1460,"TH0123":2600},
{"t":51,"TH0":1200,"TH1":780,"TH2":1480,"TH3":1090,"TH0123":3600},
{"t":51.125,"TH0":340,"TH1":160,"TH2":520,"TH3":2160,"TH0123":2200},
{"t":51.25,"TH0":730,"TH1":930,"TH2":1100,"TH3":880,"TH0123":4600},
{"t":51.375,"TH0":440,"TH1":390,"TH2":170,"TH3":1590,"TH0123":2550},
{"t":51.5,"TH0":860,"TH1":670,"TH2":1310,"TH3":1060,"TH0123":3450},
{"t":51.625,"TH0":90,"TH1":300,"TH2":600,"TH3":1730,"TH0123":1950},
{"t":51.75,"TH0":1030,"TH1":1110,"TH2":1010,"TH3":690,"TH0123":4250},
{"t":51.875,"TH0":320,"TH1":260,"TH2":680,"TH3":1520,"TH0123":2650},
{"t":52,"TH0":690,"TH1":620,"TH2":1590,"TH3":1010,"TH0123":3750},
{"t":52.125,"TH0":490,"TH1":430,"TH2":430,"TH3":1990,"TH0123":2350},
{"t":52.25,"TH0":1290,"TH1":800,"TH2":1170,"TH3":780,"TH0123":4500},
{"t":52.375,"TH0":270,"TH1":200,"TH2":590,"TH3":1430,"TH0123":2100},
{"t":52.5,"TH0":800,"TH1":1000,"TH2":1040,"TH3":1120,"TH0123":3600},
{"t":52.625,"TH0":410,"TH1":370,"TH2":490,"TH3":1840,"TH0123":2700},
{"t":52.75,"TH0":950,"TH1":650,"TH2":1360,"TH3":900,"TH0123":4100},
{"t":52.875,"TH0":230,"TH1":60,"TH2":250,"TH3":1610,"TH0123":1550},
{"t":53,"TH0":750,"TH1":880,"TH2":1090,"TH3":420,"TH0123":3500},
{"t":53.125,"TH0":360,"TH1":330,"TH2":640,"TH3":1700,"TH0123":2400},
{"t":53.25,"TH0":1140,"TH1":720,"TH2":1540,"TH3":1070,"TH0123":4650},
{"t":53.375,"TH0":310,"TH1":410,"TH2":540,"TH3":2110,"TH0123":2500},
{"t":53.5,"TH0":670,"TH1":1150,"TH2":980,"TH3":850,"TH0123":3850},
{"t":53.625,"TH0":450,"TH1":230,"TH2":410,"TH3":1540,"TH0123":2250},
{"t":53.75,"TH0":1010,"TH1":690,"TH2":1260,"TH3":1040,"TH0123":3450},
{"t":53.875,"TH0":160,"TH1":350,"TH2":680,"TH3":1790,"TH0123":2600},
{"t":54,"TH0":820,"TH1":610,"TH2":1130,"TH3":710,"TH0123":4350},
{"t":54.125,"TH0":390,"TH1":440,"TH2":360,"TH3":1500,"TH0123":1900},
{"t":54.25,"TH0":1340,"TH1":970,"TH2":1610,"TH3":1110,"TH0123":3700},
{"t":54.375,"TH0":280,"TH1":180,"TH2":570,"TH3":1910,"TH0123":2450},
{"t":54.5,"TH0":710,"TH1":760,"TH2":1050,"TH3":940,"TH0123":4550},
{"t":54.625,"TH0":470,"TH1":290,"TH2":630,"TH3":1470,"TH0123":2300},
{"t":54.75,"TH0":890,"TH1":1090,"TH2":1410,"TH3":590,"TH0123":3550},
{"t":54.875,"TH0":220,"TH1":410,"TH2":480,"TH3":1650,"TH0123":2650},
{"t":55,"TH0":1070,"TH1":650,"TH2":990,"TH3":1090,"TH0123":3900},
{"t":55.125,"TH0":350,"TH1":250,"TH2":660,"TH3":2070,"TH0123":2200},
{"t":55.25,"TH0":760,"TH1":840,"TH2":1290,"TH3":860,"TH0123":4300},
{"t":55.375,"TH0":430,"TH1":380,"TH2":440,"TH3":1560,"TH0123":2550},
{"t":55.5,"TH0":940,"TH1":690,"TH2":1180,"TH3":1000,"TH0123":3650},
{"t":55.625,"TH0":180,"TH1":330,"TH2":590,"TH3":1760,"TH0123":2350},
{"t":55.75,"TH0":680,"TH1":960,"TH2":1070,"TH3":780,"TH0123":3800},
{"t":55.875,"TH0":450,"TH1":230,"TH2":520,"TH3":1530,"TH0123":2450},
{"t":56,"TH0":620,"TH1":560,"TH2":900,"TH3":1150,"TH0123":3050}
]},
"transform":[{"fold":["TH0","TH1","TH2","TH3","TH0123"],"as":["band","v"]}],
"vconcat":[
{
 "width":603,"height":89.7,
 "title":{"text":"ae803045010_20090206225746_wam2_bst_4band_nobin.qdp","anchor":"start","frame":"group","baseline":"alphabetic","offset":-15},
 "transform":[{"filter":"datum.band === 'TH0'"}],
 "layer":[
  {"mark":{"type":"line","color":"#ff0000","strokeWidth":1.4,"strokeJoin":"bevel","clip":true},
   "encoding":{
    "x":{"field":"t","type":"quantitative","scale":{"domain":[-9.6,57.5],"nice":false,"zero":false},
     "axis":{"orient":"bottom","values":[-8,-6,-4,-2,0,2,4,6,8,10,12,14,16,18,20,22,24,26,28,30,32,34,36,38,40,42,44,46,48,50,52,54,56],"labels":false,"title":null,"tickSize":{"condition":{"test":"datum.value % 10 === 0","value":-6},"value":-3.5}}},
    "y":{"field":"v","type":"quantitative","scale":{"domain":[-45,1415],"nice":false,"zero":false},
     "axis":{"orient":"left","values":[0,100,200,300,400,500,600,700,800,900,1000,1100,1200,1300,1400],"format":"d","labelExpr":"datum.value % 500 === 0 ? datum.label : ''","labelPadding":17,"title":null,"tickSize":{"condition":{"test":"datum.value % 500 === 0","value":-6.5},"value":-3.5}}}}},
  {"transform":[{"aggregate":[{"op":"max","field":"t","as":"t"},{"op":"max","field":"v","as":"v"}]}],
   "mark":{"type":"point","opacity":0},
   "encoding":{
    "x":{"field":"t","type":"quantitative","axis":{"orient":"top","values":[-8,-6,-4,-2,0,2,4,6,8,10,12,14,16,18,20,22,24,26,28,30,32,34,36,38,40,42,44,46,48,50,52,54,56],"labels":false,"title":null,"tickSize":{"condition":{"test":"datum.value % 10 === 0","value":-6},"value":-3.5}}},
    "y":{"field":"v","type":"quantitative","axis":{"orient":"right","values":[0,100,200,300,400,500,600,700,800,900,1000,1100,1200,1300,1400],"labels":false,"title":"TH0","titleAngle":0,"titleAlign":"right","titleBaseline":"alphabetic","titleX":-2,"titleY":14.2,"titleFontSize":15,"tickSize":{"condition":{"test":"datum.value % 500 === 0","value":-6.5},"value":-3.5}}}}}
 ],
 "resolve":{"axis":{"x":"independent","y":"independent"}}
},
{
 "width":603,"height":89.7,
 "transform":[{"filter":"datum.band === 'TH1'"}],
 "layer":[
  {"mark":{"type":"line","color":"#00ff00","strokeWidth":1.4,"strokeJoin":"bevel","clip":true},
   "encoding":{
    "x":{"field":"t","type":"quantitative","scale":{"domain":[-9.6,57.5],"nice":false,"zero":false},
     "axis":{"orient":"bottom","values":[-8,-6,-4,-2,0,2,4,6,8,10,12,14,16,18,20,22,24,26,28,30,32,34,36,38,40,42,44,46,48,50,52,54,56],"labels":false,"title":null,"tickSize":{"condition":{"test":"datum.value % 10 === 0","value":-6},"value":-3.5}}},
    "y":{"field":"v","type":"quantitative","scale":{"domain":[-37,1212],"nice":false,"zero":false},
     "axis":{"orient":"left","values":[0,100,200,300,400,500,600,700,800,900,1000,1100,1200],"format":"d","labelExpr":"datum.value % 500 === 0 ? datum.label : ''","labelPadding":17,"title":null,"tickSize":{"condition":{"test":"datum.value % 500 === 0","value":-6.5},"value":-3.5}}}}},
  {"transform":[{"aggregate":[{"op":"max","field":"t","as":"t"},{"op":"max","field":"v","as":"v"}]}],
   "mark":{"type":"point","opacity":0},
   "encoding":{
    "x":{"field":"t","type":"quantitative","axis":{"orient":"top","values":[-8,-6,-4,-2,0,2,4,6,8,10,12,14,16,18,20,22,24,26,28,30,32,34,36,38,40,42,44,46,48,50,52,54,56],"labels":false,"title":null,"tickSize":{"condition":{"test":"datum.value % 10 === 0","value":-6},"value":-3.5}}},
    "y":{"field":"v","type":"quantitative","axis":{"orient":"right","values":[0,100,200,300,400,500,600,700,800,900,1000,1100,1200],"labels":false,"title":"TH1","titleAngle":0,"titleAlign":"right","titleBaseline":"alphabetic","titleX":-2,"titleY":14.2,"titleFontSize":15,"tickSize":{"condition":{"test":"datum.value % 500 === 0","value":-6.5},"value":-3.5}}}}}
 ],
 "resolve":{"axis":{"x":"independent","y":"independent"}}
},
{
 "width":603,"height":89.7,
 "transform":[{"filter":"datum.band === 'TH2'"}],
 "layer":[
  {"mark":{"type":"line","color":"#0000ff","strokeWidth":1.4,"strokeJoin":"bevel","clip":true},
   "encoding":{
    "x":{"field":"t","type":"quantitative","scale":{"domain":[-9.6,57.5],"nice":false,"zero":false},
     "axis":{"orient":"bottom","values":[-8,-6,-4,-2,0,2,4,6,8,10,12,14,16,18,20,22,24,26,28,30,32,34,36,38,40,42,44,46,48,50,52,54,56],"labels":false,"title":null,"tickSize":{"condition":{"test":"datum.value % 10 === 0","value":-6},"value":-3.5}}},
    "y":{"field":"v","type":"quantitative","scale":{"domain":[24,1660],"nice":false,"zero":false},
     "axis":{"orient":"left","values":[100,200,300,400,500,600,700,800,900,1000,1100,1200,1300,1400,1500,1600],"format":"d","labelExpr":"datum.value % 500 === 0 ? datum.label : ''","labelPadding":17,"title":"Counts/sec","titleAngle":270,"titleAlign":"center","titleBaseline":"alphabetic","titleX":-60,"titleY":52.3,"tickSize":{"condition":{"test":"datum.value % 500 === 0","value":-6.5},"value":-3.5}}}}},
  {"transform":[{"aggregate":[{"op":"max","field":"t","as":"t"},{"op":"max","field":"v","as":"v"}]}],
   "mark":{"type":"point","opacity":0},
   "encoding":{
    "x":{"field":"t","type":"quantitative","axis":{"orient":"top","values":[-8,-6,-4,-2,0,2,4,6,8,10,12,14,16,18,20,22,24,26,28,30,32,34,36,38,40,42,44,46,48,50,52,54,56],"labels":false,"title":null,"tickSize":{"condition":{"test":"datum.value % 10 === 0","value":-6},"value":-3.5}}},
    "y":{"field":"v","type":"quantitative","axis":{"orient":"right","values":[100,200,300,400,500,600,700,800,900,1000,1100,1200,1300,1400,1500,1600],"labels":false,"title":"TH2","titleAngle":0,"titleAlign":"right","titleBaseline":"alphabetic","titleX":-2,"titleY":14.2,"titleFontSize":15,"tickSize":{"condition":{"test":"datum.value % 500 === 0","value":-6.5},"value":-3.5}}}}}
 ],
 "resolve":{"axis":{"x":"independent","y":"independent"}}
},
{
 "width":603,"height":89.7,
 "transform":[{"filter":"datum.band === 'TH3'"}],
 "layer":[
  {"mark":{"type":"line","color":"#00ffff","strokeWidth":1.4,"strokeJoin":"bevel","clip":true},
   "encoding":{
    "x":{"field":"t","type":"quantitative","scale":{"domain":[-9.6,57.5],"nice":false,"zero":false},
     "axis":{"orient":"bottom","values":[-8,-6,-4,-2,0,2,4,6,8,10,12,14,16,18,20,22,24,26,28,30,32,34,36,38,40,42,44,46,48,50,52,54,56],"labels":false,"title":null,"tickSize":{"condition":{"test":"datum.value % 10 === 0","value":-6},"value":-3.5}}},
    "y":{"field":"v","type":"quantitative","scale":{"domain":[211,2241],"nice":false,"zero":false},
     "axis":{"orient":"left","values":[300,400,500,600,700,800,900,1000,1100,1200,1300,1400,1500,1600,1700,1800,1900,2000,2100,2200],"format":"d","labelExpr":"datum.value % 500 === 0 ? datum.label : ''","labelPadding":17,"title":null,"tickSize":{"condition":{"test":"datum.value % 500 === 0","value":-6.5},"value":-3.5}}}}},
  {"transform":[{"aggregate":[{"op":"max","field":"t","as":"t"},{"op":"max","field":"v","as":"v"}]}],
   "mark":{"type":"point","opacity":0},
   "encoding":{
    "x":{"field":"t","type":"quantitative","axis":{"orient":"top","values":[-8,-6,-4,-2,0,2,4,6,8,10,12,14,16,18,20,22,24,26,28,30,32,34,36,38,40,42,44,46,48,50,52,54,56],"labels":false,"title":null,"tickSize":{"condition":{"test":"datum.value % 10 === 0","value":-6},"value":-3.5}}},
    "y":{"field":"v","type":"quantitative","axis":{"orient":"right","values":[300,400,500,600,700,800,900,1000,1100,1200,1300,1400,1500,1600,1700,1800,1900,2000,2100,2200],"labels":false,"title":"TH3","titleAngle":0,"titleAlign":"right","titleBaseline":"alphabetic","titleX":-2,"titleY":14.2,"titleFontSize":15,"tickSize":{"condition":{"test":"datum.value % 500 === 0","value":-6.5},"value":-3.5}}}}}
 ],
 "resolve":{"axis":{"x":"independent","y":"independent"}}
},
{
 "width":603,"height":89.7,
 "transform":[{"filter":"datum.band === 'TH0123'"}],
 "layer":[
  {"mark":{"type":"line","color":"#ff00ff","strokeWidth":1.4,"strokeJoin":"bevel","clip":true},
   "encoding":{
    "x":{"field":"t","type":"quantitative","scale":{"domain":[-9.6,57.5],"nice":false,"zero":false},
     "axis":{"orient":"bottom","values":[-8,-6,-4,-2,0,2,4,6,8,10,12,14,16,18,20,22,24,26,28,30,32,34,36,38,40,42,44,46,48,50,52,54,56],"format":"d","labelExpr":"datum.value % 10 === 0 ? datum.label : ''","labelPadding":11,"title":"Time [sec] 0 = 2009/02/06 22:57:46.101","titleAlign":"center","titleBaseline":"alphabetic","titleX":290.3,"titleY":34.5,"tickSize":{"condition":{"test":"datum.value % 10 === 0","value":-6},"value":-3.5}}},
    "y":{"field":"v","type":"quantitative","scale":{"domain":[1278,4951],"nice":false,"zero":false},
     "axis":{"orient":"left","values":[1400,1600,1800,2000,2200,2400,2600,2800,3000,3200,3400,3600,3800,4000,4200,4400,4600,4800],"format":"d","labelExpr":"datum.value % 1000 === 0 ? datum.label : ''","labelPadding":17,"title":null,"tickSize":{"condition":{"test":"datum.value % 1000 === 0","value":-6.5},"value":-3.5}}}}},
  {"transform":[{"aggregate":[{"op":"max","field":"t","as":"t"},{"op":"max","field":"v","as":"v"}]}],
   "mark":{"type":"point","opacity":0},
   "encoding":{
    "x":{"field":"t","type":"quantitative","axis":{"orient":"top","values":[-8,-6,-4,-2,0,2,4,6,8,10,12,14,16,18,20,22,24,26,28,30,32,34,36,38,40,42,44,46,48,50,52,54,56],"labels":false,"title":null,"tickSize":{"condition":{"test":"datum.value % 10 === 0","value":-6},"value":-3.5}}},
    "y":{"field":"v","type":"quantitative","axis":{"orient":"right","values":[1400,1600,1800,2000,2200,2400,2600,2800,3000,3200,3400,3600,3800,4000,4200,4400,4600,4800],"labels":false,"title":"TH0123","titleAngle":0,"titleAlign":"right","titleBaseline":"alphabetic","titleX":-2,"titleY":14.2,"titleFontSize":15,"tickSize":{"condition":{"test":"datum.value % 1000 === 0","value":-6.5},"value":-3.5}}}}}
 ],
 "resolve":{"axis":{"x":"independent","y":"independent"}}
}
]
}
